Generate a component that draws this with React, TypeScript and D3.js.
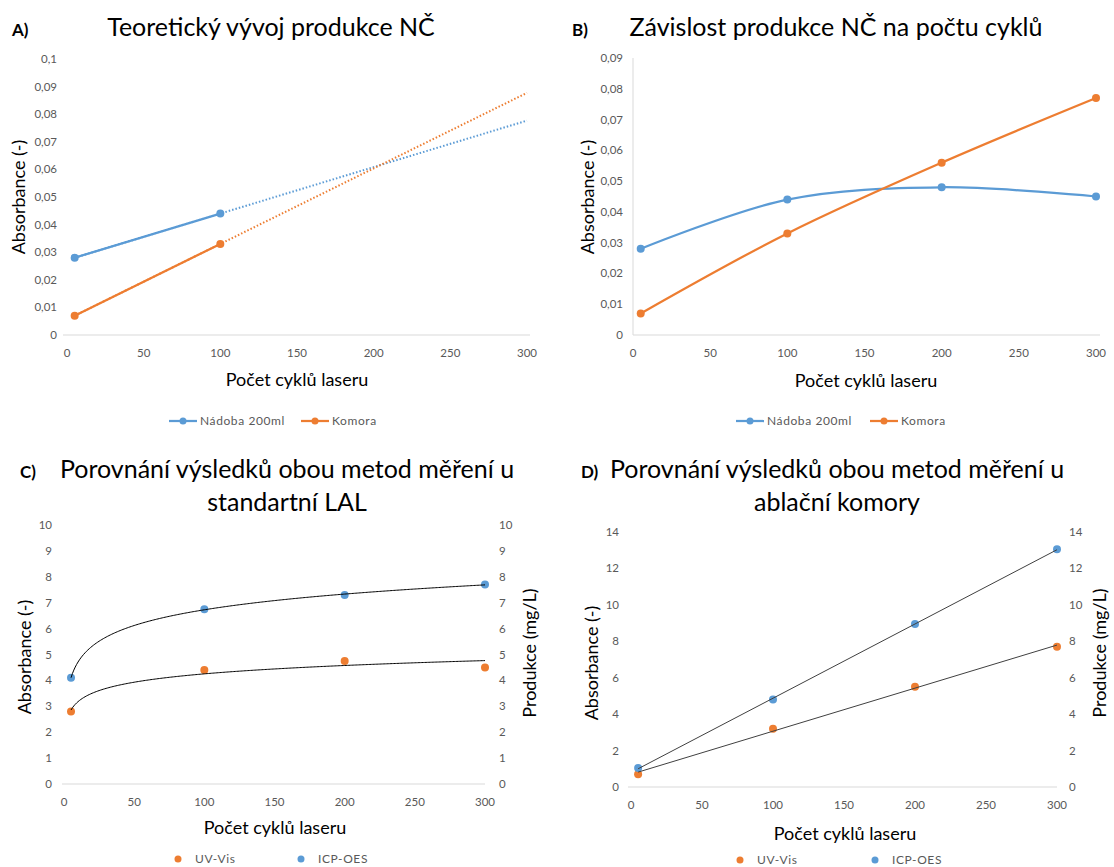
import React from 'react';
import * as d3 from 'd3';

// cycle counts (x)
const cycles = [5, 100, 200, 300];
const cyclesTeorie = [5, 100];

// A) teoreticky vyvoj
const teorieNadoba = [0.028, 0.044];
const teorieKomora = [0.007, 0.033];

// B) zavislost na poctu cyklu
const nadoba = [0.028, 0.044, 0.048, 0.045];
const komora = [0.007, 0.033, 0.056, 0.077];

// C) standartni LAL
const lalUvVis = [2.8, 4.4, 4.75, 4.5];
const lalIcp = [4.1, 6.75, 7.3, 7.7];

// D) ablacni komora
const komoraUvVis = [0.7, 3.2, 5.5, 7.7];
const komoraIcp = [1.05, 4.8, 8.95, 13.05];

const xTicks = [0, 50, 100, 150, 200, 250, 300];
const yTicksA = [0, 0.01, 0.02, 0.03, 0.04, 0.05, 0.06, 0.07, 0.08, 0.09, 0.1];
const yTicksB = [0, 0.01, 0.02, 0.03, 0.04, 0.05, 0.06, 0.07, 0.08, 0.09];
const yTicksC = [0, 1, 2, 3, 4, 5, 6, 7, 8, 9, 10];
const yTicksD = [0, 2, 4, 6, 8, 10, 12, 14];

const BLUE = '#5b9bd5';
const ORANGE = '#ed7d31';
const TICK = '#595959';
const AXIS = '#d9d9d9';
const FONT = 'Lato, "Open Sans", sans-serif';

const fmt = (v: number) => String(+v.toFixed(3)).replace('.', ',');

// least squares fit of y = a*f(x) + b
function fit(xs: number[], ys: number[], f: (x: number) => number) {
  const fx = xs.map(f);
  const mx = d3.mean(fx) as number;
  const my = d3.mean(ys) as number;
  const sxy = d3.sum(fx, (v, i) => (v - mx) * (ys[i] - my));
  const sxx = d3.sum(fx, v => (v - mx) * (v - mx));
  const a = sxy / sxx;
  const b = my - a * mx;
  return (x: number) => a * f(x) + b;
}

const pts = (xs: number[], ys: number[]) => xs.map((x, i) => [x, ys[i]] as [number, number]);

type Sc = d3.ScaleLinear<number, number>;

function XAxis({ x, y0, x0, x1 }: { x: Sc; y0: number; x0: number; x1: number }) {
  return (
    <g>
      <line x1={x0} x2={x1} y1={y0} y2={y0} stroke={AXIS} strokeWidth={1} />
      {xTicks.map(t => (
        <text key={t} x={x(t)} y={y0 + 22} textAnchor="middle" fontSize={11.5} fill={TICK}>{t}</text>
      ))}
    </g>
  );
}

function YTicks({ y, ticks, xPos, anchor }: { y: Sc; ticks: number[]; xPos: number; anchor: string }) {
  return (
    <g>
      {ticks.map(t => (
        <text key={t} x={xPos} y={y(t) + 4} textAnchor={anchor} fontSize={11.5} fill={TICK}>{fmt(t)}</text>
      ))}
    </g>
  );
}

function Dots({ x, y, data, color }: { x: Sc; y: Sc; data: [number, number][]; color: string }) {
  return (
    <g>
      {data.map((d, i) => (
        <circle key={i} cx={x(d[0])} cy={y(d[1])} r={4} fill={color} />
      ))}
    </g>
  );
}

function Title({ cx, lines, y0, tag, tagX }: { cx: number; lines: string[]; y0: number; tag: string; tagX: number }) {
  return (
    <g>
      <text x={tagX} y={y0} fontSize={17} fontWeight="bold" fill="#000">{tag}</text>
      {lines.map((l, i) => (
        <text key={i} x={cx} y={y0 + i * 33} textAnchor="middle" fontSize={25} fill="#000">{l}</text>
      ))}
    </g>
  );
}

function YLabel({ cx, cy, text }: { cx: number; cy: number; text: string }) {
  return (
    <text transform={`translate(${cx},${cy}) rotate(-90)`} textAnchor="middle" dy="0.35em" fontSize={18} fill="#000">{text}</text>
  );
}

function LineLegend({ items, y0 }: { items: { x: number; label: string; color: string }[]; y0: number }) {
  return (
    <g>
      {items.map(it => (
        <g key={it.label}>
          <line x1={it.x} x2={it.x + 28} y1={y0} y2={y0} stroke={it.color} strokeWidth={2.25} />
          <circle cx={it.x + 14} cy={y0} r={3.5} fill={it.color} />
          <text x={it.x + 31} y={y0 + 4} fontSize={12} fill={TICK} letterSpacing={0.6}>{it.label}</text>
        </g>
      ))}
    </g>
  );
}

function DotLegend({ items, y0 }: { items: { x: number; label: string; color: string }[]; y0: number }) {
  return (
    <g>
      {items.map(it => (
        <g key={it.label}>
          <circle cx={it.x} cy={y0} r={3.5} fill={it.color} />
          <text x={it.x + 17} y={y0 + 4} fontSize={12} fill={TICK} letterSpacing={0.6}>{it.label}</text>
        </g>
      ))}
    </g>
  );
}

export default function App() {
  // panel A
  const xA = d3.scaleLinear().domain([0, 300]).range([67, 527]);
  const yA = d3.scaleLinear().domain([0, 0.1]).range([335, 59]);
  const lineA = d3.line<[number, number]>().x(d => xA(d[0])).y(d => yA(d[1]));
  const trendA1 = fit(cyclesTeorie, teorieNadoba, v => v);
  const trendA2 = fit(cyclesTeorie, teorieKomora, v => v);

  // panel B
  const xB = d3.scaleLinear().domain([0, 300]).range([633, 1096]);
  const yB = d3.scaleLinear().domain([0, 0.09]).range([335, 58]);
  const lineB = d3.line<[number, number]>().x(d => xB(d[0])).y(d => yB(d[1])).curve(d3.curveCatmullRom.alpha(0.5));

  // panel C
  const xC = d3.scaleLinear().domain([0, 300]).range([64, 485]);
  const yC = d3.scaleLinear().domain([0, 10]).range([784, 525]);
  const trendC1 = fit(cycles, lalUvVis, Math.log);
  const trendC2 = fit(cycles, lalIcp, Math.log);
  const sampleC = d3.range(5, 300.5, 1);

  // panel D
  const xD = d3.scaleLinear().domain([0, 300]).range([631, 1057]);
  const yD = d3.scaleLinear().domain([0, 14]).range([787, 532]);
  const trendD1 = fit(cycles, komoraUvVis, v => v);
  const trendD2 = fit(cycles, komoraIcp, v => v);

  const curveC = (f: (x: number) => number) =>
    d3.line<number>().x(v => xC(v)).y(v => yC(f(v)))(sampleC) as string;
  const lineD = (f: (x: number) => number) =>
    d3.line<number>().x(v => xD(v)).y(v => yD(f(v)))([5, 300]) as string;

  return (
    <svg width={1114} height={867} style={{ position: 'absolute', left: 0, top: 0, fontFamily: FONT }}>
      <rect width={1114} height={867} fill="#fff" />

      {/* A */}
      <Title cx={271} lines={['Teoretický vývoj produkce NČ']} y0={36} tag="A)" tagX={12} />
      <XAxis x={xA} y0={335} x0={63} x1={530} />
      <YTicks y={yA} ticks={yTicksA} xPos={57} anchor="end" />
      <YLabel cx={19} cy={197} text="Absorbance (-)" />
      <path d={lineA([[5, trendA1(5)], [300, trendA1(300)]]) as string} fill="none" stroke={BLUE} strokeWidth={2} strokeDasharray="1.5 2" />
      <path d={lineA([[5, trendA2(5)], [300, trendA2(300)]]) as string} fill="none" stroke={ORANGE} strokeWidth={2} strokeDasharray="1.5 2" />
      <path d={lineA(pts(cyclesTeorie, teorieNadoba)) as string} fill="none" stroke={BLUE} strokeWidth={2.25} />
      <path d={lineA(pts(cyclesTeorie, teorieKomora)) as string} fill="none" stroke={ORANGE} strokeWidth={2.25} />
      <Dots x={xA} y={yA} data={pts(cyclesTeorie, teorieNadoba)} color={BLUE} />
      <Dots x={xA} y={yA} data={pts(cyclesTeorie, teorieKomora)} color={ORANGE} />
      <text x={297} y={386} textAnchor="middle" fontSize={18} fill="#000">Počet cyklů laseru</text>
      <LineLegend y0={421} items={[{ x: 169, label: 'Nádoba 200ml', color: BLUE }, { x: 301, label: 'Komora', color: ORANGE }]} />

      {/* B */}
      <Title cx={836} lines={['Závislost produkce NČ na počtu cyklů']} y0={36} tag="B)" tagX={572} />
      <XAxis x={xB} y0={335} x0={633} x1={1100} />
      <line x1={633} x2={633} y1={58} y2={335} stroke={AXIS} />
      <YTicks y={yB} ticks={yTicksB} xPos={623} anchor="end" />
      <YLabel cx={588} cy={197} text="Absorbance (-)" />
      <path d={lineB(pts(cycles, nadoba)) as string} fill="none" stroke={BLUE} strokeWidth={2.25} />
      <path d={lineB(pts(cycles, komora)) as string} fill="none" stroke={ORANGE} strokeWidth={2.25} />
      <Dots x={xB} y={yB} data={pts(cycles, nadoba)} color={BLUE} />
      <Dots x={xB} y={yB} data={pts(cycles, komora)} color={ORANGE} />
      <text x={866} y={387} textAnchor="middle" fontSize={18} fill="#000">Počet cyklů laseru</text>
      <LineLegend y0={421} items={[{ x: 736, label: 'Nádoba 200ml', color: BLUE }, { x: 870, label: 'Komora', color: ORANGE }]} />

      {/* C */}
      <Title cx={287} lines={['Porovnání výsledků obou metod měření u', 'standartní LAL']} y0={478} tag="C)" tagX={20} />
      <XAxis x={xC} y0={784} x0={62} x1={485} />
      <YTicks y={yC} ticks={yTicksC} xPos={52} anchor="end" />
      <YTicks y={yC} ticks={yTicksC} xPos={499} anchor="start" />
      <YLabel cx={25} cy={657} text="Absorbance (-)" />
      <YLabel cx={530} cy={653} text="Produkce (mg/L)" />
      <Dots x={xC} y={yC} data={pts(cycles, lalUvVis)} color={ORANGE} />
      <Dots x={xC} y={yC} data={pts(cycles, lalIcp)} color={BLUE} />
      <path d={curveC(trendC1)} fill="none" stroke="#000" strokeWidth={1} />
      <path d={curveC(trendC2)} fill="none" stroke="#000" strokeWidth={1} />
      <text x={275} y={834} textAnchor="middle" fontSize={18} fill="#000">Počet cyklů laseru</text>
      <DotLegend y0={859} items={[{ x: 178, label: 'UV-Vis', color: ORANGE }, { x: 301, label: 'ICP-OES', color: BLUE }]} />

      {/* D */}
      <Title cx={837} lines={['Porovnání výsledků obou metod měření u', 'ablační komory']} y0={478} tag="D)" tagX={581} />
      <XAxis x={xD} y0={787} x0={628} x1={1057} />
      <YTicks y={yD} ticks={yTicksD} xPos={619} anchor="end" />
      <YTicks y={yD} ticks={yTicksD} xPos={1069} anchor="start" />
      <YLabel cx={592} cy={663} text="Absorbance (-)" />
      <YLabel cx={1100} cy={653} text="Produkce (mg/L)" />
      <Dots x={xD} y={yD} data={pts(cycles, komoraUvVis)} color={ORANGE} />
      <Dots x={xD} y={yD} data={pts(cycles, komoraIcp)} color={BLUE} />
      <path d={lineD(trendD1)} fill="none" stroke="#404040" strokeWidth={1} />
      <path d={lineD(trendD2)} fill="none" stroke="#404040" strokeWidth={1} />
      <text x={845} y={840} textAnchor="middle" fontSize={18} fill="#000">Počet cyklů laseru</text>
      <DotLegend y0={860} items={[{ x: 740, label: 'UV-Vis', color: ORANGE }, { x: 875, label: 'ICP-OES', color: BLUE }]} />
    </svg>
  );
}
